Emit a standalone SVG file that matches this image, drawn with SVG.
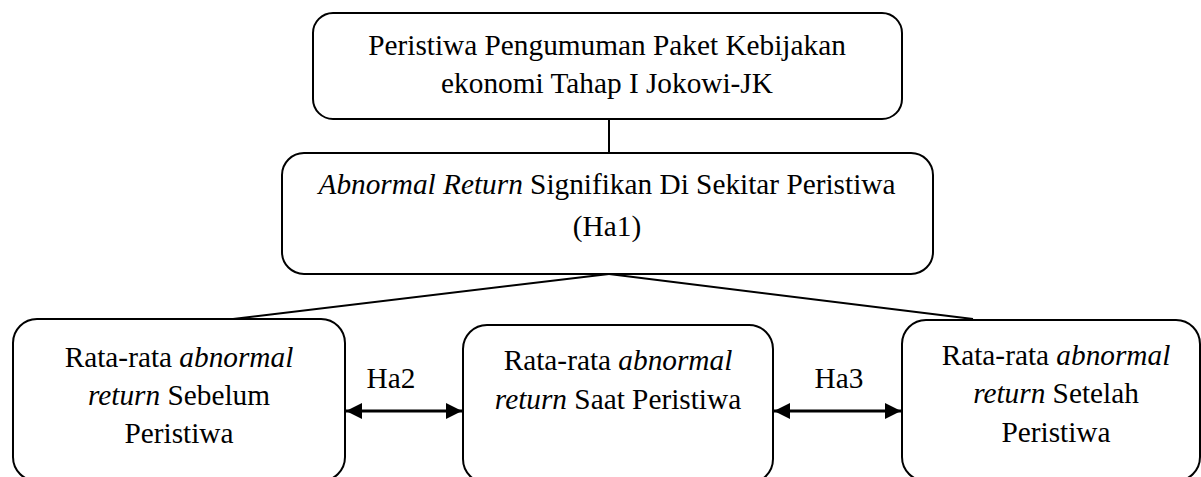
<svg xmlns="http://www.w3.org/2000/svg" width="1201" height="477" viewBox="0 0 1201 477">
  <style>
    .box { fill: #ffffff; stroke: #000000; stroke-width: 2; }
    .t { font-size: 29.3px; fill: #000000; text-anchor: middle; }
    .i { font-style: italic; }
    .ln { stroke: #000000; stroke-width: 2; fill: none; }
    .ar { stroke: #000000; stroke-width: 3; fill: none; marker-start: url(#ah); marker-end: url(#ah); }
  </style>
  <defs>
    <marker id="ah" markerUnits="userSpaceOnUse" markerWidth="18" markerHeight="18" refX="16" refY="8" orient="auto-start-reverse" viewBox="0 0 18 16">
      <path d="M0,0 L16,8 L0,16 Z" fill="#000000"/>
    </marker>
  </defs>

  <g id="connectors">
    <line class="ln" x1="609" y1="119" x2="609" y2="153"/>
    <line class="ln" x1="609" y1="274" x2="233" y2="319"/>
    <line class="ln" x1="609" y1="274" x2="973" y2="319"/>
    <line class="ar" x1="346" y1="411" x2="462" y2="411"/>
    <line class="ar" x1="774" y1="411" x2="901" y2="411"/>
  </g>

  <g font-family="Liberation Serif, DejaVu Serif, serif">
  <g id="node-top">
    <rect class="box" x="313" y="13" width="589" height="106" rx="20" ry="20"/>
    <text class="t" x="607" y="55">Peristiwa Pengumuman Paket Kebijakan</text>
    <text class="t" x="607" y="93">ekonomi Tahap I Jokowi-JK</text>
  </g>

  <g id="node-ha1">
    <rect class="box" x="282" y="153" width="651" height="121" rx="22" ry="22"/>
    <text class="t" x="607" y="194"><tspan class="i">Abnormal Return</tspan> Signifikan Di Sekitar Peristiwa</text>
    <text class="t" x="607" y="236">(Ha1)</text>
  </g>

  <g id="node-before">
    <rect class="box" x="13" y="319" width="332" height="162" rx="24" ry="24"/>
    <text class="t" x="179" y="367">Rata-rata <tspan class="i">abnormal</tspan></text>
    <text class="t" x="179" y="405"><tspan class="i">return</tspan> Sebelum</text>
    <text class="t" x="179" y="443">Peristiwa</text>
  </g>

  <g id="label-ha2">
    <text class="t" x="391" y="388">Ha2</text>
  </g>

  <g id="node-during">
    <rect class="box" x="463" y="325" width="310" height="158" rx="24" ry="24"/>
    <text class="t" x="618" y="370">Rata-rata <tspan class="i">abnormal</tspan></text>
    <text class="t" x="618" y="409"><tspan class="i">return</tspan> Saat Peristiwa</text>
  </g>

  <g id="label-ha3">
    <text class="t" x="839" y="388">Ha3</text>
  </g>

  <g id="node-after">
    <rect class="box" x="902" y="320" width="298" height="161" rx="24" ry="24"/>
    <text class="t" x="1056" y="365">Rata-rata <tspan class="i">abnormal</tspan></text>
    <text class="t" x="1056" y="403"><tspan class="i">return</tspan> Setelah</text>
    <text class="t" x="1056" y="442">Peristiwa</text>
  </g>
  </g>
</svg>
